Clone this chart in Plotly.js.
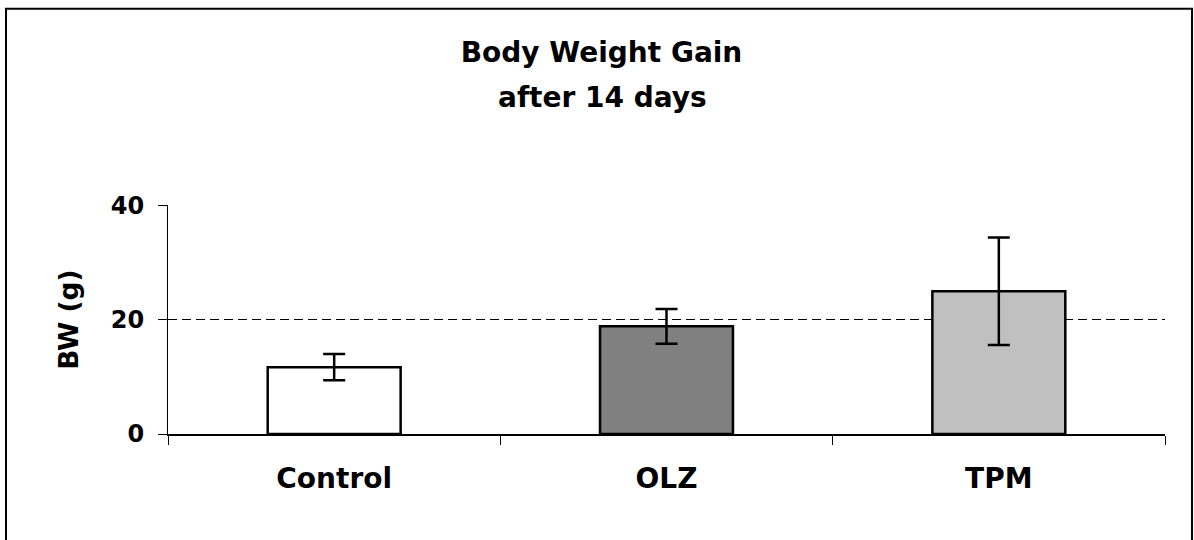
<!DOCTYPE html>
<html>
<head>
<meta charset="utf-8">
<script src="https://cdn.plot.ly/plotly-3.0.1.min.js"></script>
<style>
  html, body { margin: 0; padding: 0; background: #fff; }
  #chart { width: 1194px; height: 540px; }
</style>
</head>
<body>
<div id="chart"></div>
<script>
// Data
const categories = ["Control", "OLZ", "TPM"];
const values = [11.7, 18.85, 25.0];
const errors = [2.3, 3.05, 9.4];
const barColors = ["#FFFFFF", "#808080", "#C0C0C0"];
const yTicks = [0, 20, 40];
const titleLines = ["Body Weight Gain", "after 14 days"];
const yTitle = "BW (g)";

const FONT = "'DejaVu Sans', Arial, sans-serif";

const trace = {
  type: "bar",
  x: categories,
  y: values,
  marker: { color: barColors, line: { color: "#000", width: 2.5 } },
  error_y: { type: "data", array: errors, visible: true, color: "#000", thickness: 2.5, width: 11 },
  hoverinfo: "skip"
};

const layout = {
  width: 1194,
  height: 540,
  margin: { l: 168, r: 29, t: 205, b: 106, pad: 0 },
  paper_bgcolor: "#fff",
  plot_bgcolor: "#fff",
  showlegend: false,
  bargap: 0.6,
  font: { family: FONT, color: "#000" },
  title: {
    text: titleLines[0],
    font: { family: FONT, size: 28, color: "#000", weight: "bold" },
    xref: "container", x: 601.5 / 1194, xanchor: "center",
    yref: "container", y: 1 - 52 / 540, yanchor: "middle"
  },
  annotations: [
    {
      text: titleLines[1],
      font: { family: FONT, size: 28, color: "#000", weight: "bold" },
      xref: "paper", x: (602.5 - 168) / 997, xanchor: "center",
      yref: "paper", y: (434.3 - 98) / 229, yanchor: "middle",
      showarrow: false
    }
  ],
  xaxis: {
    type: "category",
    showline: true, linecolor: "#000", linewidth: 1.5,
    ticks: "outside", tickson: "boundaries", ticklen: 9, tickcolor: "#000", tickwidth: 1,
    tickfont: { family: FONT, size: 28, color: "#000", weight: "bold" },
    ticklabelstandoff: 19,
    showgrid: false, zeroline: false, fixedrange: true
  },
  yaxis: {
    range: [0, 40.1],
    tickvals: yTicks,
    ticktext: yTicks.map(String),
    showline: true, linecolor: "#000", linewidth: 1,
    ticks: "outside", ticklen: 9, tickcolor: "#000", tickwidth: 1,
    tickfont: { family: FONT, size: 24, color: "#000", weight: "bold" },
    ticklabelstandoff: 9,
    showgrid: true, gridcolor: "#000", gridwidth: 1, griddash: "9px,5px",
    zeroline: false, fixedrange: true,
    title: { text: yTitle, font: { family: FONT, size: 26.5, color: "#000", weight: "bold" }, standoff: 24 }
  },
  shapes: [
    {
      type: "rect", xref: "paper", yref: "paper",
      x0: (6 - 168) / 997, x1: (1192 - 168) / 997,
      y0: -0.6, y1: (434.3 - 9) / 229,
      line: { color: "#000", width: 2 }, fillcolor: "rgba(0,0,0,0)", layer: "below"
    }
  ]
};

Plotly.newPlot("chart", [trace], layout, { displayModeBar: false, staticPlot: true });
</script>
</body>
</html>
